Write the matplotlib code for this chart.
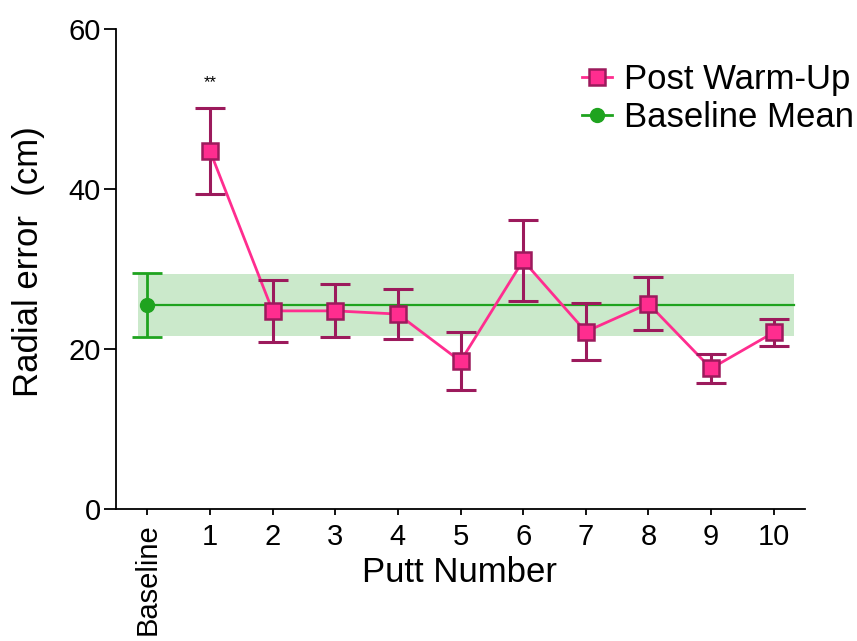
import matplotlib
matplotlib.use('Agg')
import matplotlib.pyplot as plt

plt.rcParams['font.family'] = ['Liberation Sans', 'DejaVu Sans']

# Post warm-up radial error per putt (mean and error bar half-width)
putts = [1, 2, 3, 4, 5, 6, 7, 8, 9, 10]
post_mean = [44.8, 24.8, 24.8, 24.4, 18.5, 31.1, 22.2, 25.7, 17.6, 22.1]
post_err = [5.4, 3.9, 3.3, 3.1, 3.6, 5.1, 3.6, 3.35, 1.8, 1.7]

# Baseline
base_mean = 25.5
base_err = 4.0
band_low = 21.6
band_high = 29.4

tick_labels = ['Baseline', '1', '2', '3', '4', '5', '6', '7', '8', '9', '10']
sig_label = '**'

pink = '#ff2d8f'
dark = '#9c1a5c'
green = '#1fa31f'

fig = plt.figure(figsize=(8.57, 6.41), dpi=100)
ax = fig.add_axes([0.1354, 0.2055, 0.8039, 0.7488])

# baseline band + mean line
ax.fill_between([-0.15, 10.33], band_low, band_high, color='#cbe9cb', lw=0, zorder=0)
ax.plot([0, 10.33], [base_mean, base_mean], color=green, lw=1.6, zorder=1)
ax.errorbar([0], [base_mean], yerr=[base_err], fmt='o', color=green, ms=10,
            capsize=11, capthick=2, elinewidth=2, zorder=3)

# post warm-up series
ax.plot(putts, post_mean, color=pink, lw=2, zorder=2)
ax.errorbar(putts, post_mean, yerr=post_err, fmt='none', ecolor=dark,
            capsize=11, capthick=2.2, elinewidth=2.2, zorder=3)
ax.plot(putts, post_mean, 's', ms=11.5, mfc=pink, mec=dark, mew=1.8, zorder=4)

ax.text(1, 53.3, sig_label, ha='center', va='center', fontsize=12)

# legend handles
h1, = ax.plot([], [], color=pink, lw=2, marker='s', ms=11.5, mfc=pink, mec=dark, mew=1.8)
h2, = ax.plot([], [], color=green, lw=2, marker='o', ms=10)
fig.legend([h1, h2], ['Post Warm-Up', 'Baseline Mean'], loc='upper left',
           bbox_to_anchor=(0.659, 0.929), frameon=False, fontsize=25,
           handlelength=0.85, handletextpad=0.35, labelspacing=0.15, borderpad=0)

ax.set_xlim(-0.5, 10.5)
ax.set_ylim(0, 60)
ax.set_yticks([0, 20, 40, 60])
ax.set_xticks(range(11))
ax.set_xticklabels(tick_labels)
ax.get_xticklabels()[0].set_rotation(90)
ax.tick_params(axis='y', labelsize=21, length=9, width=1.3, pad=2)
ax.tick_params(axis='x', labelsize=21, length=4, width=1.3, pad=6)
for s in ['top', 'right']:
    ax.spines[s].set_visible(False)
for s in ['left', 'bottom']:
    ax.spines[s].set_linewidth(1.3)

ax.set_xlabel('Putt Number', fontsize=25)
ax.xaxis.set_label_coords(0.499, -0.098)
ax.set_ylabel('Radial error  (cm)', fontsize=25)
ax.yaxis.set_label_coords(-0.103, 0.515)

fig.savefig('out.png', dpi=100)
